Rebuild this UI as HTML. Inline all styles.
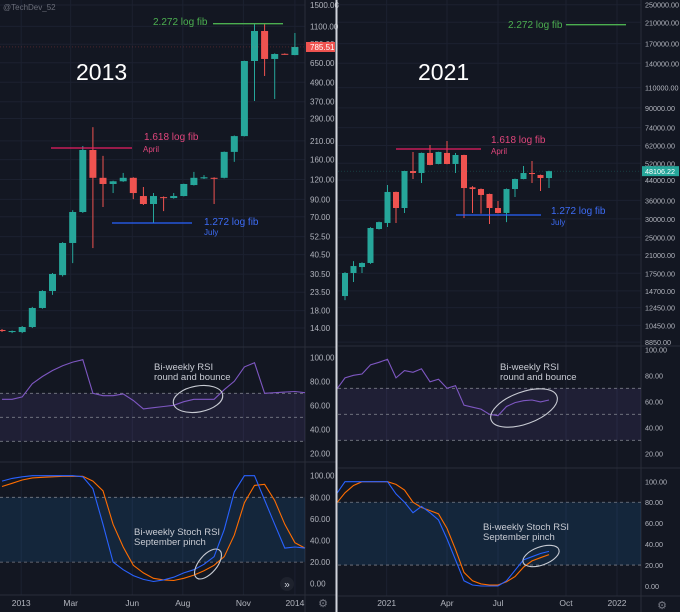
<!DOCTYPE html>
<html><head><meta charset="utf-8"><style>
html,body{margin:0;padding:0;background:#131722;}
svg{display:block;font-family:"Liberation Sans",sans-serif;}
</style></head><body>
<svg id="c" width="680" height="612" viewBox="0 0 680 612" xmlns="http://www.w3.org/2000/svg">
<rect width="680" height="612" fill="#131722"/>
<g id="root"></g>
</svg>
<script>
// ===== LEFT (2013) DATA =====
const leftOpen  = [13.6,13.2,13.2,14.2,18.7,23.9,30.1,47.9,75,184,123,112.5,117,123,94.5,84.2,93,91.8,94.5,110.8,122,123,123,179,225,667,1030,687,740,727];
const leftHigh  = [13.8,13.5,14.4,19,24.2,31,48.5,77,195,256,169,118,132,124,107.7,98.7,94,98.7,113,134,128,124,180,227,670,1156,1156,745,745,1000];
const leftLow   = [13.2,13.0,13.0,14,18.5,22.6,29.5,35.8,74,44.5,80.7,98.7,116,90.4,83,64,76,91,94,110,121,84.2,122,155,224,374,537,385,730,725];
const leftClose = [13.4,13.4,14.2,18.7,23.9,30.6,47.9,75,184,123,112.5,117,123,98.7,84.2,94.5,91.8,94.5,112.5,123,124,122,179,225,667,1030,687,738,733,817];
const leftRsi   = [65,65,67,78,84,89,93,96,98,70,68,68,69.5,64,57,58,59,60,63,65,65,65,73,80,92,95.5,70,70.5,71,71.5,70.5];
const leftK     = [95,97.5,99,100,100,100,100,100,99,88,55,20,13,7.5,4,2,3.5,6,10,13,18,25,50,85,100,100,77.5,55,33,34,33];
const leftD     = [90,93,96,98,98.5,99,99.4,99.4,99.4,95,86,55,34,17,10,5,3.5,3,5,8,12,17,25,45,75,91,92,77,55,38,33];
const leftPriceTicks = [1500,1100,850,650,490,370,290,210,160,120,90,70,52.5,40.5,30.5,23.5,18,14];
const leftTimeLabels = ["2013","Mar","Jun","Aug","Nov","2014"];
const leftTimeIdx    = [1.9,6.8,12.9,17.9,23.9,29];
// ===== RIGHT (2021) DATA =====
const rightOpen  = [13970,17550,18620,19380,27130,28800,39150,33400,48170,47230,57600,51650,57600,51650,56450,41000,40300,38380,33400,31800,40300,44500,47230,46300,44940];
const rightHigh  = [17700,19750,19500,27600,29200,41950,39300,48300,58170,57800,62350,58300,64830,57600,56600,41500,40500,38500,35780,40500,44700,50630,53180,46500,48300];
const rightLow   = [13420,16060,17550,19200,27000,27670,28800,31800,44500,42800,51000,51500,51500,47230,30240,31800,31600,28500,31700,29050,37250,44400,42800,39500,40700];
const rightClose = [17550,18800,19380,27400,29050,39150,33400,48170,47230,57600,51150,58170,51650,56450,40700,40300,38000,33400,31800,40300,44500,47230,46760,44940,48106];
const rightRsi   = [69,78,80,81,88,90,92.3,78,83.6,82.3,85,75,77,70,72,57,55.5,54,50,49,56,59,60.5,61,59.5,61];
const rightK     = [88,99.6,99.6,99.6,99.6,99.6,99.6,88,80,70,76,70,63,45,25,5,1,0,0,0,5,15,25,28,31,33];
const rightD     = [79,89,96,99.6,99.6,99.6,99.6,97,91.7,80,75,72,69,55,35,13,5,2,1,1,4,9,18,24,27,30];
const rightPriceTicks = [250000,210000,170000,140000,110000,90000,74000,62000,52000,44000,36000,30000,25000,21000,17500,14700,12450,10450,8850];
const rightTimeLabels = ["2021","Apr","Jul","Oct","2022"];
const rightTimeIdx    = [4.9,12,18,26,32];
const oscTicks = [100,80,60,40,20];
const stochTicks = [100,80,60,40,20,0];

const NS="http://www.w3.org/2000/svg";
const root=document.getElementById('root');
function mk(tag,attrs,parent,text){const e=document.createElementNS(NS,tag);for(const k in attrs)e.setAttribute(k,attrs[k]);if(text!==undefined)e.textContent=text;(parent||root).appendChild(e);return e;}

function panel(cfg){
  const g=mk('g',{});
  
  
  const xOf=i=>cfg.x0+cfg.dx*i;
  const yP=p=>cfg.pTop+(Math.log(cfg.pMax)-Math.log(p))*cfg.pScale;
  const yR=v=>cfg.rTop+(100-v)*cfg.rScale;
  const yS=v=>cfg.sTop+(100-v)*cfg.sScale;
  const fs=cfg.fs;
  cfg.priceTicks.forEach(t=>{mk('line',{x1:cfg.left,x2:cfg.axisX,y1:yP(t),y2:yP(t),stroke:'#1c2130','stroke-width':1},g);});
  cfg.timeIdx.forEach(t=>{mk('line',{x1:xOf(t),x2:xOf(t),y1:0,y2:cfg.bottom,stroke:'#1c2130','stroke-width':1},g);});
  mk('line',{x1:cfg.left,x2:cfg.right,y1:cfg.sep1,y2:cfg.sep1,stroke:'#2a2e39','stroke-width':1},g);
  mk('line',{x1:cfg.left,x2:cfg.right,y1:cfg.sep2,y2:cfg.sep2,stroke:'#2a2e39','stroke-width':1},g);
  mk('line',{x1:cfg.left,x2:cfg.right,y1:cfg.bottom,y2:cfg.bottom,stroke:'#2a2e39','stroke-width':1},g);
  mk('line',{x1:cfg.axisX,x2:cfg.axisX,y1:0,y2:612,stroke:'#2a2e39','stroke-width':1},g);
  const rb=mk('rect',{x:cfg.left,y:yR(70),width:cfg.axisX-cfg.left,height:yR(30)-yR(70),fill:'rgba(126,87,194,0.12)'},g);
  
  
  [70,50,30].forEach(v=>mk('line',{x1:cfg.left,x2:cfg.axisX,y1:yR(v),y2:yR(v),stroke:'#787b86','stroke-width':0.8,'stroke-dasharray':'3,3'},g));
  const sb=mk('rect',{x:cfg.left,y:yS(80),width:cfg.axisX-cfg.left,height:yS(20)-yS(80),fill:'rgba(33,150,243,0.12)'},g);
  
  
  [80,20].forEach(v=>mk('line',{x1:cfg.left,x2:cfg.axisX,y1:yS(v),y2:yS(v),stroke:'#787b86','stroke-width':0.8,'stroke-dasharray':'3,3'},g));
  for(let i=0;i<cfg.open.length;i++){
    const o=cfg.open[i],c=cfg.close[i],h=cfg.high[i],l=cfg.low[i];
    const col=c>=o?'#26a69a':'#ef5350';
    const cg=mk('g',{},g);
    
    
    const x=xOf(i);
    mk('line',{x1:x,x2:x,y1:yP(h),y2:yP(l),stroke:col,'stroke-width':1},cg);
    const t=Math.min(yP(o),yP(c)),b=Math.max(yP(o),yP(c));
    mk('rect',{x:x-cfg.cw/2,y:t,width:cfg.cw,height:Math.max(1,b-t),fill:col},cg);
  }
  function line(arr,yf,col,name,off){
    const d=arr.map((v,i)=>(i?'L':'M')+xOf(i+off).toFixed(1)+','+yf(v).toFixed(1)).join(' ');
    const p=mk('path',{d:d,fill:'none',stroke:col,'stroke-width':1.1},g);
    
    
  }
  line(cfg.rsi,yR,'#7e57c2','rsi-line',cfg.oscOff);
  line(cfg.d,yS,'#ff6d00','stoch-d-line',cfg.oscOff);
  line(cfg.k,yS,'#2962ff','stoch-k-line',cfg.oscOff);
  cfg.priceTicks.forEach(t=>{const e=mk('text',{x:cfg.axisX+cfg.lx,y:yP(t)+3,fill:'#b2b5be','font-size':fs},g,t.toFixed(2));
    
    });
  oscTicks.forEach(t=>{const e=mk('text',{x:cfg.axisX+cfg.lx,y:yR(t)+3,fill:'#b2b5be','font-size':fs},g,t.toFixed(2));
    
    });
  stochTicks.forEach(t=>{const e=mk('text',{x:cfg.axisX+cfg.lx,y:yS(t)+3,fill:'#b2b5be','font-size':fs},g,t.toFixed(2));
    
    });
  cfg.timeLabels.forEach((t,i)=>{const e=mk('text',{x:xOf(cfg.timeIdx[i]),y:606,fill:'#b2b5be','font-size':8.5,'text-anchor':'middle'},g,t);
    
    });
  const lp=cfg.close[cfg.close.length-1];
  mk('line',{x1:cfg.left,x2:cfg.axisX,y1:yP(lp),y2:yP(lp),stroke:cfg.lastCol,'stroke-width':0.6,'stroke-dasharray':'1,2','opacity':0.4},g);
  const lr=mk('rect',{x:cfg.axisX+1,y:yP(lp)-5,width:cfg.right-cfg.axisX-2,height:10,fill:cfg.lastCol},g);
  
  
  mk('text',{x:cfg.axisX+cfg.lx,y:yP(lp)+3,fill:'#fff','font-size':fs},g,cfg.lastText);
  return {g,yP,xOf};
}

panel({name:'panel-2013',left:0,right:336,axisX:305,x0:2,dx:10.1,cw:7,pTop:5,pMax:1500,pScale:69.1,
  rTop:357.3,rScale:1.2,sTop:475.7,sScale:1.08,sep1:347,sep2:462,bottom:595,fs:8,lx:5,
  open:leftOpen,high:leftHigh,low:leftLow,close:leftClose,rsi:leftRsi,k:leftK,d:leftD,oscOff:0,
  priceTicks:leftPriceTicks,timeLabels:leftTimeLabels,timeIdx:leftTimeIdx,lastCol:'#ef5350',lastText:'785.51'});
panel({name:'panel-2021',left:338,right:680,axisX:641,x0:345,dx:8.5,cw:6,pTop:4.7,pMax:250000,pScale:101,
  rTop:349.3,rScale:1.3,sTop:481.3,sScale:1.047,sep1:346,sep2:468,bottom:596,fs:7.2,lx:4,
  open:rightOpen,high:rightHigh,low:rightLow,close:rightClose,rsi:rightRsi,k:rightK,d:rightD,oscOff:-1,
  priceTicks:rightPriceTicks,timeLabels:rightTimeLabels,timeIdx:rightTimeIdx,lastCol:'#26a69a',lastText:'48106.22'});

const dv=mk('rect',{x:335.5,y:0,width:2,height:612,fill:'#d1d4dc'});



function txt(x,y,s,col,size,name){const e=mk('text',{x:x,y:y,fill:col,'font-size':size},root,s);
  
  return e;}
function hl(x1,x2,y,col,name){const e=mk('line',{x1:x1,x2:x2,y1:y,y2:y,stroke:col,'stroke-width':1.3});
  
  }

txt(3,10,'@TechDev_52','#6a6d78',8,'watermark');
txt(76,80,'2013','#ffffff',23,'year-title-2013');
txt(418,80,'2021','#ffffff',23,'year-title-2021');
hl(213,283,23.7,'#4caf50','fib-2272-line-left'); txt(153,25,'2.272 log fib','#4caf50',10,'fib-2272-label-left');
hl(51,132,148,'#e91e63','fib-1618-line-left'); txt(144,140,'1.618 log fib','#e0467c',10,'fib-1618-label-left'); txt(143,152,'April','#e0467c',8,'fib-april-left');
hl(112,192,223,'#2962ff','fib-1272-line-left'); txt(204,225,'1.272 log fib','#3d6cf5',10,'fib-1272-label-left'); txt(204,235,'July','#3d6cf5',8,'fib-july-left');
hl(566,626,24.7,'#4caf50','fib-2272-line-right'); txt(508,28,'2.272 log fib','#4caf50',10,'fib-2272-label-right');
hl(396,481,149,'#e91e63','fib-1618-line-right'); txt(491,143,'1.618 log fib','#e0467c',10,'fib-1618-label-right'); txt(491,154,'April','#e0467c',8,'fib-april-right');
hl(456,541,215,'#2962ff','fib-1272-line-right'); txt(551,214,'1.272 log fib','#3d6cf5',10,'fib-1272-label-right'); txt(551,225,'July','#3d6cf5',8,'fib-july-right');
const ac='#c8cbd3';
txt(154,370,'Bi-weekly RSI',ac,9.5,'rsi-note-left'); txt(154,380,'round and bounce',ac,9.5,'rsi-note-left-2');
txt(500,370,'Bi-weekly RSI',ac,9.5,'rsi-note-right'); txt(500,380,'round and bounce',ac,9.5,'rsi-note-right-2');
txt(134,535,'Bi-weekly Stoch RSI',ac,9.5,'stoch-note-left'); txt(134,545,'September pinch',ac,9.5,'stoch-note-left-2');
txt(483,530,'Bi-weekly Stoch RSI',ac,9.5,'stoch-note-right'); txt(483,540,'September pinch',ac,9.5,'stoch-note-right-2');
function ell(cx,cy,rx,ry,rot,name){const e=mk('ellipse',{cx:cx,cy:cy,rx:rx,ry:ry,fill:'none',stroke:'#c8cbd3','stroke-width':1.1,transform:'rotate('+rot+' '+cx+' '+cy+')'});
  
  }
ell(198,399,25,13,-10,'rsi-ellipse-left');
ell(524,408,35,16,-20,'rsi-ellipse-right');
ell(208,564,9,18,40,'stoch-ellipse-left');
ell(541,556,19,9,-20,'stoch-ellipse-right');
const sc=mk('g',{});


mk('circle',{cx:287,cy:584,r:7,fill:'#1e222d'},sc);
mk('text',{x:287,y:587.5,fill:'#d1d4dc','font-size':10,'text-anchor':'middle'},sc,'»');
const g1=mk('text',{x:323,y:607,fill:'#787b86','font-size':11,'text-anchor':'middle'},root,'⚙');


const g2=mk('text',{x:662,y:609,fill:'#787b86','font-size':11,'text-anchor':'middle'},root,'⚙');


</script>
</body></html>
